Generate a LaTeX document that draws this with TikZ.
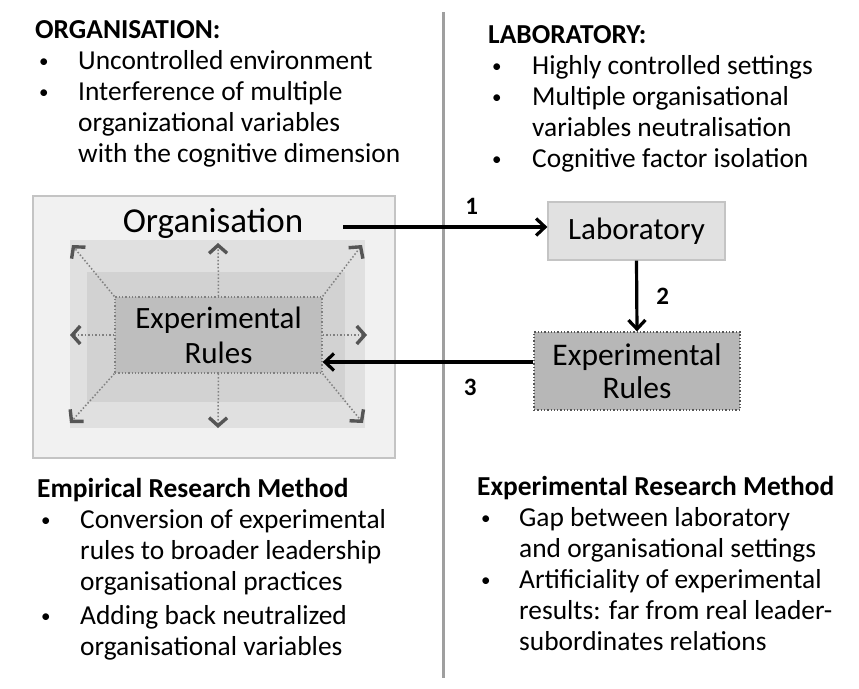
\documentclass[tikz,border=0pt]{standalone}
\usepackage{fontspec}
\setmainfont{Carlito}
\usetikzlibrary{arrows.meta}
\definecolor{frameline}{HTML}{C4C4C4}
\definecolor{framefill}{HTML}{F1F1F1}
\definecolor{bandA}{HTML}{E0E0E0}
\definecolor{bandB}{HTML}{D2D2D2}
\definecolor{coreA}{HTML}{BEBEBE}
\definecolor{labfill}{HTML}{E1E1E1}
\definecolor{rulefill}{HTML}{B7B7B7}
\definecolor{tipgray}{HTML}{555555}
\newcommand{\bul}{\hspace{4pt}\raisebox{2pt}{\fontsize{19}{19}\selectfont\textbullet}}
\tikzset{
  txtblock/.style = {anchor=base west,inner sep=0pt,font=\fontsize{27.4}{31}\selectfont},
  layer/.style    = {draw=none,inner sep=0pt},
  mainarr/.style  = {-{Straight Barb[length=9pt,width=17pt,line width=3.2pt]},line width=3.2pt},
  spreadarr/.style= {dotted,line width=1.5pt,gray,
                     -{Straight Barb[length=8pt,width=18pt,line width=3.4pt,color=tipgray]}},
  numlbl/.style   = {font=\fontsize{25}{25}\selectfont\bfseries,inner sep=0pt}
}

\begin{document}
\begin{tikzpicture}[x=1pt,y=-1pt]
  \useasboundingbox[fill=white] (0,0) rectangle (859,688);
  \draw[gray!75,line width=3pt] (443,12) -- (443,678);

  % text blocks
  \node[txtblock] (orgtxt) at (35,38) {\begin{tabular}[t]{@{}p{43pt}@{}l@{}}
    \multicolumn{2}{@{}l}{\textbf{ORGANISATION:}}\\
    \bul & Uncontrolled environment\\
    \bul & Interference of multiple\\
         & organizational variables\\
         & with the cognitive dimension
  \end{tabular}};
  \node[txtblock] (labtxt) at (488,43) {\begin{tabular}[t]{@{}p{44pt}@{}l@{}}
    \multicolumn{2}{@{}l}{\textbf{LABORATORY:}}\\
    \bul & Highly controlled settings\\
    \bul & Multiple organisational\\
         & variables neutralisation\\
    \bul & Cognitive factor isolation
  \end{tabular}};
  \node[txtblock] (emptxt) at (37,497) {\begin{tabular}[t]{@{}p{43pt}@{}l@{}}
    \multicolumn{2}{@{}l}{\textbf{Empirical Research Method}}\\
    \bul & Conversion of experimental\\
         & rules to broader leadership\\
         & organisational practices\\[3pt]
    \bul & Adding back neutralized\\
         & organisational variables
  \end{tabular}};
  \node[txtblock] (exptxt) at (477,495) {\begin{tabular}[t]{@{}p{42pt}@{}l@{}}
    \multicolumn{2}{@{}l}{\textbf{Experimental Research Method}}\\
    \bul & Gap between laboratory\\
         & and organisational settings\\
    \bul & Artificiality of experimental\\
         & results: far from real leader-\\
         & subordinates relations
  \end{tabular}};

  % organisation with nested layers
  \node[layer,draw=frameline,fill=framefill,line width=1.2pt,minimum width=362,minimum height=262] (orgbox) at (214,327) {};
  \node[layer,fill=bandA,minimum width=295,minimum height=188] (bandout) at (217.5,334) {};
  \node[layer,fill=bandB,minimum width=258,minimum height=130] (bandin) at (216,337) {};
  \node[layer,fill=coreA,draw=gray,dotted,line width=1.3pt,minimum width=207,minimum height=76,
        align=center,font=\fontsize{31}{35}\selectfont] (rulesin) at (218.5,335) {Experimental\\Rules};
  \node[inner sep=0pt,font=\fontsize{35}{35}\selectfont] (orgname) at (213,223) {Organisation};

  % spreading arrows
  \coordinate (tl) at (72,245);
  \coordinate (tc) at (218,243);
  \coordinate (tr) at (362,245);
  \coordinate (ml) at (70,335);
  \coordinate (mr) at (367,335);
  \coordinate (bl) at (70,423);
  \coordinate (bc) at (218,428);
  \coordinate (br) at (363,423);
  \draw[spreadarr] (rulesin.north west) -- (tl);
  \draw[spreadarr] (rulesin.north) -- (tc);
  \draw[spreadarr] (rulesin.north east) -- (tr);
  \draw[spreadarr] (rulesin.west) -- (ml);
  \draw[spreadarr] (rulesin.east) -- (mr);
  \draw[spreadarr] (rulesin.south west) -- (bl);
  \draw[spreadarr] (rulesin.south) -- (bc);
  \draw[spreadarr] (rulesin.south east) -- (br);

  % laboratory side
  \node[layer,draw=frameline,fill=labfill,line width=1.2pt,minimum width=177,minimum height=58,
        font=\fontsize{31}{31}\selectfont] (lab) at (636.5,231) {Laboratory};
  \node[layer,fill=rulefill,draw=tipgray,dotted,line width=1.3pt,minimum width=206,minimum height=78,
        align=center,font=\fontsize{31.5}{33}\selectfont] (rulesr) at (637,371) {Experimental\\Rules};

  \coordinate (a1) at (343,227);
  \coordinate (a3) at ([yshift=9pt]rulesr.west);
  \draw[mainarr] (a1) -- node[numlbl,pos=0.63,above=11pt] (n1) {1} (a1 -| lab.west);
  \draw[mainarr] (lab.south) -- node[numlbl,right=18pt] (n2) {2} (rulesr.north);
  \draw[mainarr] (a3) -- node[numlbl,pos=0.3,below=16pt] (n3) {3} (a3 -| rulesin.east);
\end{tikzpicture}
\end{document}
